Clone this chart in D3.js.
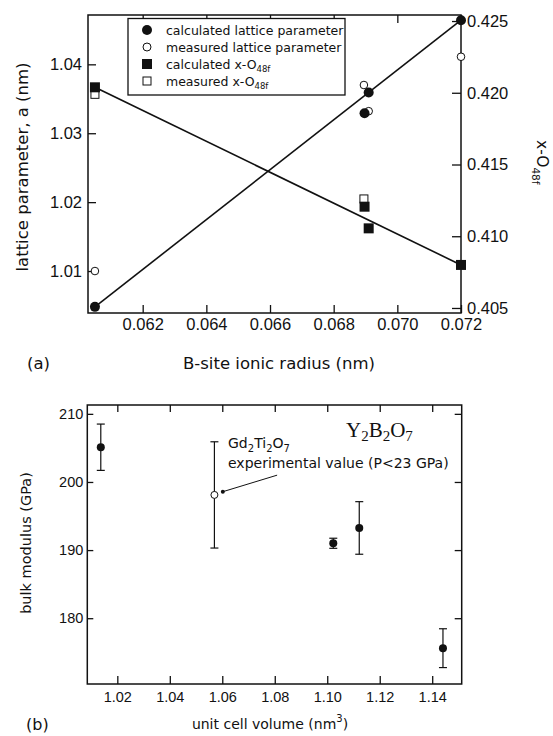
<!DOCTYPE html>
<html>
<head>
<meta charset="utf-8">
<script src="https://cdn.jsdelivr.net/npm/d3@7"></script>
<style>
  body { margin: 0; background: #fff; }
  svg { display: block; font-family: "DejaVu Sans", sans-serif; }
  .axis text { fill: #111; }
  .axis line { stroke: #111; stroke-width: 1.3; }
</style>
</head>
<body>
<svg id="chart" width="553" height="736"></svg>
<script>
// ---- panel (a) data ----
const radiusCalc = [0.0605, 0.06897, 0.0691, 0.0720];
const latticeCalc = [1.0048, 1.0329, 1.0359, 1.0464];
const radiusMeas = [0.0605, 0.06895, 0.0691, 0.0720];
const latticeMeas = [1.0100, 1.0370, 1.0332, 1.0411];
const xO48Calc = [0.42038, 0.41206, 0.41055, 0.4080];
const radiusXMeas = [0.0605, 0.06895];
const xO48Meas = [0.41989, 0.4126];
const fitRadius = [0.0605, 0.0720];
const fitLattice = [1.0048, 1.0464];
const fitXO48 = [0.42038, 0.4080];
const radiusTicks = [0.062, 0.064, 0.066, 0.068, 0.070, 0.072];
const latticeTicks = [1.01, 1.02, 1.03, 1.04];
const xO48Ticks = [0.405, 0.410, 0.415, 0.420, 0.425];
const legendLabels = ["calculated lattice parameter", "measured lattice parameter", "calculated x-O", "measured x-O"];

// ---- panel (b) data ----
const volume = [1.0137, 1.1023, 1.1122, 1.1441];
const modulus = [205.1, 191.0, 193.25, 175.6];
const modulusErr = [3.4, 0.74, 3.86, 2.85];
const gdVolume = [1.0570];
const gdModulus = [198.1];
const gdErr = [7.8];
const volumeTicks = [1.02, 1.04, 1.06, 1.08, 1.10, 1.12, 1.14];
const modulusTicks = [180, 190, 200, 210];

const svg = d3.select("#chart");
const ink = "#111";

// ================= panel (a) =================
const a = {left: 88, right: 461, top: 15, bottom: 313};
const xA = d3.scaleLinear().domain([0.060282, 0.072]).range([a.left, a.right]);
const yLat = d3.scaleLinear().domain([1.00391, 1.04716]).range([a.bottom, a.top]);
const yXO = d3.scaleLinear().domain([0.40465, 0.42542]).range([a.bottom, a.top]);

const gA = svg.append("g");

gA.append("g").attr("class", "axis")
  .attr("transform", `translate(0,${a.bottom})`)
  .call(d3.axisBottom(xA).tickValues(radiusTicks).tickFormat(d3.format(".3f")).tickSize(-8).tickPadding(5).tickSizeOuter(0))
  .call(g => g.select(".domain").remove())
  .selectAll("text").attr("font-size", "16.5px");

gA.append("g").attr("class", "axis")
  .attr("transform", `translate(0,${a.top})`)
  .call(d3.axisTop(xA).tickValues(radiusTicks).tickFormat("").tickSize(-8).tickSizeOuter(0))
  .call(g => g.select(".domain").remove());

gA.append("g").attr("class", "axis")
  .attr("transform", `translate(${a.left},0)`)
  .call(d3.axisLeft(yLat).tickValues(latticeTicks).tickFormat(d3.format(".2f")).tickSize(-8).tickPadding(6).tickSizeOuter(0))
  .call(g => g.select(".domain").remove())
  .selectAll("text").attr("font-size", "16.5px");

gA.append("g").attr("class", "axis")
  .attr("transform", `translate(${a.right},0)`)
  .call(d3.axisRight(yXO).tickValues(xO48Ticks).tickFormat(d3.format(".3f")).tickSize(-9).tickPadding(6).tickSizeOuter(0))
  .call(g => g.select(".domain").remove())
  .selectAll("text").attr("font-size", "16.5px");

gA.append("rect")
  .attr("x", a.left).attr("y", a.top)
  .attr("width", a.right - a.left).attr("height", a.bottom - a.top)
  .attr("fill", "none").attr("stroke", ink).attr("stroke-width", 1.5);

// fit lines
const fitPts = fitRadius.map((r, i) => ({r, lat: fitLattice[i], xo: fitXO48[i]}));
gA.append("path").datum(fitPts)
  .attr("d", d3.line().x(d => xA(d.r)).y(d => yLat(d.lat)))
  .attr("fill", "none").attr("stroke", ink).attr("stroke-width", 1.6);
gA.append("path").datum(fitPts)
  .attr("d", d3.line().x(d => xA(d.r)).y(d => yXO(d.xo)))
  .attr("fill", "none").attr("stroke", ink).attr("stroke-width", 1.6);

// measured (open) markers first
gA.selectAll(".latMeas").data(radiusMeas).join("circle")
  .attr("cx", d => xA(d)).attr("cy", (d, i) => yLat(latticeMeas[i])).attr("r", 3.8)
  .attr("fill", "#fff").attr("stroke", ink).attr("stroke-width", 1);
gA.selectAll(".xoMeas").data(radiusXMeas).join("rect")
  .attr("x", d => xA(d) - 4).attr("y", (d, i) => yXO(xO48Meas[i]) - 4)
  .attr("width", 8).attr("height", 8)
  .attr("fill", "#fff").attr("stroke", ink).attr("stroke-width", 1);

gA.selectAll(".latCalc").data(radiusCalc).join("circle")
  .attr("cx", d => xA(d)).attr("cy", (d, i) => yLat(latticeCalc[i])).attr("r", 5)
  .attr("fill", ink);
gA.selectAll(".xoCalc").data(radiusCalc).join("rect")
  .attr("x", d => xA(d) - 5).attr("y", (d, i) => yXO(xO48Calc[i]) - 5)
  .attr("width", 10).attr("height", 10)
  .attr("fill", ink);

// legend
const leg = gA.append("g");
leg.append("rect").attr("x", 128).attr("y", 18.5).attr("width", 217).attr("height", 76.5)
  .attr("fill", "#fff").attr("stroke", ink).attr("stroke-width", 1.3);
legendLabels.forEach((lab, i) => {
  const cy = 30 + i * 17;
  const sx = 147;
  if (i === 0) leg.append("circle").attr("cx", sx).attr("cy", cy).attr("r", 5).attr("fill", ink);
  if (i === 1) leg.append("circle").attr("cx", sx).attr("cy", cy).attr("r", 4).attr("fill", "#fff").attr("stroke", ink);
  if (i === 2) leg.append("rect").attr("x", sx - 5).attr("y", cy - 5).attr("width", 10).attr("height", 10).attr("fill", ink);
  if (i === 3) leg.append("rect").attr("x", sx - 4).attr("y", cy - 4).attr("width", 8).attr("height", 8).attr("fill", "#fff").attr("stroke", ink);
  const t = leg.append("text").attr("x", 166).attr("y", cy + 4.5).attr("font-size", "12.5px").attr("fill", ink).text(lab);
  if (i >= 2) t.append("tspan").attr("dy", 3.5).attr("font-size", "8.5px").text("48f");
});

// axis titles
svg.append("text")
  .attr("transform", `translate(28,167) rotate(-90)`)
  .attr("text-anchor", "middle").attr("font-size", "16.5px").attr("fill", ink)
  .text("lattice parameter, a (nm)");
const rt = svg.append("text")
  .attr("transform", `translate(537,140) rotate(90)`)
  .attr("font-size", "15.5px").attr("fill", ink).text("x-O");
rt.append("tspan").attr("dy", 5).attr("font-size", "10.5px").text("48f");

svg.append("text").attr("x", 279).attr("y", 369).attr("text-anchor", "middle")
  .attr("font-size", "16.5px").attr("fill", ink).text("B-site ionic radius (nm)");
svg.append("text").attr("x", 27).attr("y", 369)
  .attr("font-size", "16.5px").attr("fill", ink).text("(a)");

// ================= panel (b) =================
const b = {left: 87.3, right: 461.7, top: 405, bottom: 684};
const xB = d3.scaleLinear().domain([1.00856, 1.15124]).range([b.left, b.right]);
const yB = d3.scaleLinear().domain([170.34, 211.3]).range([b.bottom, b.top]);

const gB = svg.append("g");

gB.append("g").attr("class", "axis")
  .attr("transform", `translate(0,${b.bottom})`)
  .call(d3.axisBottom(xB).tickValues(volumeTicks).tickFormat(d3.format(".2f")).tickSize(-8).tickPadding(8).tickSizeOuter(0))
  .call(g => g.select(".domain").remove())
  .selectAll("text").attr("font-size", "14.5px");

gB.append("g").attr("class", "axis")
  .attr("transform", `translate(0,${b.top})`)
  .call(d3.axisTop(xB).tickValues(volumeTicks).tickFormat("").tickSize(-7).tickSizeOuter(0))
  .call(g => g.select(".domain").remove());

gB.append("g").attr("class", "axis")
  .attr("transform", `translate(${b.left},0)`)
  .call(d3.axisLeft(yB).tickValues(modulusTicks).tickFormat(d3.format("d")).tickSize(-6).tickPadding(4).tickSizeOuter(0))
  .call(g => g.select(".domain").remove())
  .selectAll("text").attr("font-size", "14.5px");

gB.append("g").attr("class", "axis")
  .attr("transform", `translate(${b.right},0)`)
  .call(d3.axisRight(yB).tickValues(modulusTicks).tickFormat("").tickSize(-7).tickSizeOuter(0))
  .call(g => g.select(".domain").remove());

gB.append("rect")
  .attr("x", b.left).attr("y", b.top)
  .attr("width", b.right - b.left).attr("height", b.bottom - b.top)
  .attr("fill", "none").attr("stroke", ink).attr("stroke-width", 1.5);

function errorBars(g, xs, ys, es) {
  const rows = xs.map((v, i) => ({v, m: ys[i], e: es[i]}));
  g.selectAll(null).data(rows).join("line")
    .attr("x1", d => xB(d.v)).attr("x2", d => xB(d.v))
    .attr("y1", d => yB(d.m - d.e)).attr("y2", d => yB(d.m + d.e))
    .attr("stroke", ink).attr("stroke-width", 1.2);
  [-1, 1].forEach(s => {
    g.selectAll(null).data(rows).join("line")
      .attr("x1", d => xB(d.v) - 4).attr("x2", d => xB(d.v) + 4)
      .attr("y1", d => yB(d.m + s * d.e)).attr("y2", d => yB(d.m + s * d.e))
      .attr("stroke", ink).attr("stroke-width", 1.2);
  });
}

errorBars(gB, volume, modulus, modulusErr);
errorBars(gB, gdVolume, gdModulus, gdErr);

gB.selectAll(".calc").data(volume).join("circle")
  .attr("cx", d => xB(d)).attr("cy", (d, i) => yB(modulus[i])).attr("r", 4)
  .attr("fill", ink);

// annotation leader for the experimental point
const leader = [{v: 1.0602, m: 198.57}, {v: 1.0809, m: 201.0}];
gB.append("path").datum(leader)
  .attr("d", d3.line().x(d => xB(d.v)).y(d => yB(d.m)))
  .attr("stroke", ink).attr("stroke-width", 1);
gB.append("circle").attr("cx", xB(leader[0].v)).attr("cy", yB(leader[0].m)).attr("r", 2).attr("fill", ink);

gB.selectAll(".exp").data(gdVolume).join("circle")
  .attr("cx", d => xB(d)).attr("cy", (d, i) => yB(gdModulus[i])).attr("r", 3.5)
  .attr("fill", "#fff").attr("stroke", ink).attr("stroke-width", 1);

const gd = gB.append("text").attr("x", 228).attr("y", 448).attr("font-size", "14px").attr("fill", ink);
gd.append("tspan").text("Gd");
gd.append("tspan").attr("dy", 4).attr("font-size", "10px").text("2");
gd.append("tspan").attr("dy", -4).text("Ti");
gd.append("tspan").attr("dy", 4).attr("font-size", "10px").text("2");
gd.append("tspan").attr("dy", -4).text("O");
gd.append("tspan").attr("dy", 4).attr("font-size", "10px").text("7");
gB.append("text").attr("x", 228).attr("y", 468).attr("font-size", "14px").attr("fill", ink)
  .text("experimental value (P<23 GPa)");

const ttl = gB.append("text").attr("x", 346).attr("y", 437)
  .attr("font-family", "'Liberation Serif', serif").attr("font-size", "21px").attr("fill", ink);
ttl.append("tspan").text("Y");
ttl.append("tspan").attr("dy", 4).attr("font-size", "15px").text("2");
ttl.append("tspan").attr("dy", -4).text("B");
ttl.append("tspan").attr("dy", 4).attr("font-size", "15px").text("2");
ttl.append("tspan").attr("dy", -4).text("O");
ttl.append("tspan").attr("dy", 4).attr("font-size", "15px").text("7");

svg.append("text")
  .attr("transform", `translate(31,543) rotate(-90)`)
  .attr("text-anchor", "middle").attr("font-size", "14.5px").attr("fill", ink)
  .text("bulk modulus (GPa)");

const xl = svg.append("text").attr("x", 270).attr("y", 729).attr("text-anchor", "middle")
  .attr("font-size", "14px").attr("fill", ink).text("unit cell volume (nm");
xl.append("tspan").attr("dy", -7).attr("font-size", "10px").text("3");
xl.append("tspan").attr("dy", 7).text(")");

svg.append("text").attr("x", 26).attr("y", 730)
  .attr("font-size", "16px").attr("fill", ink).text("(b)");
</script>
</body>
</html>
